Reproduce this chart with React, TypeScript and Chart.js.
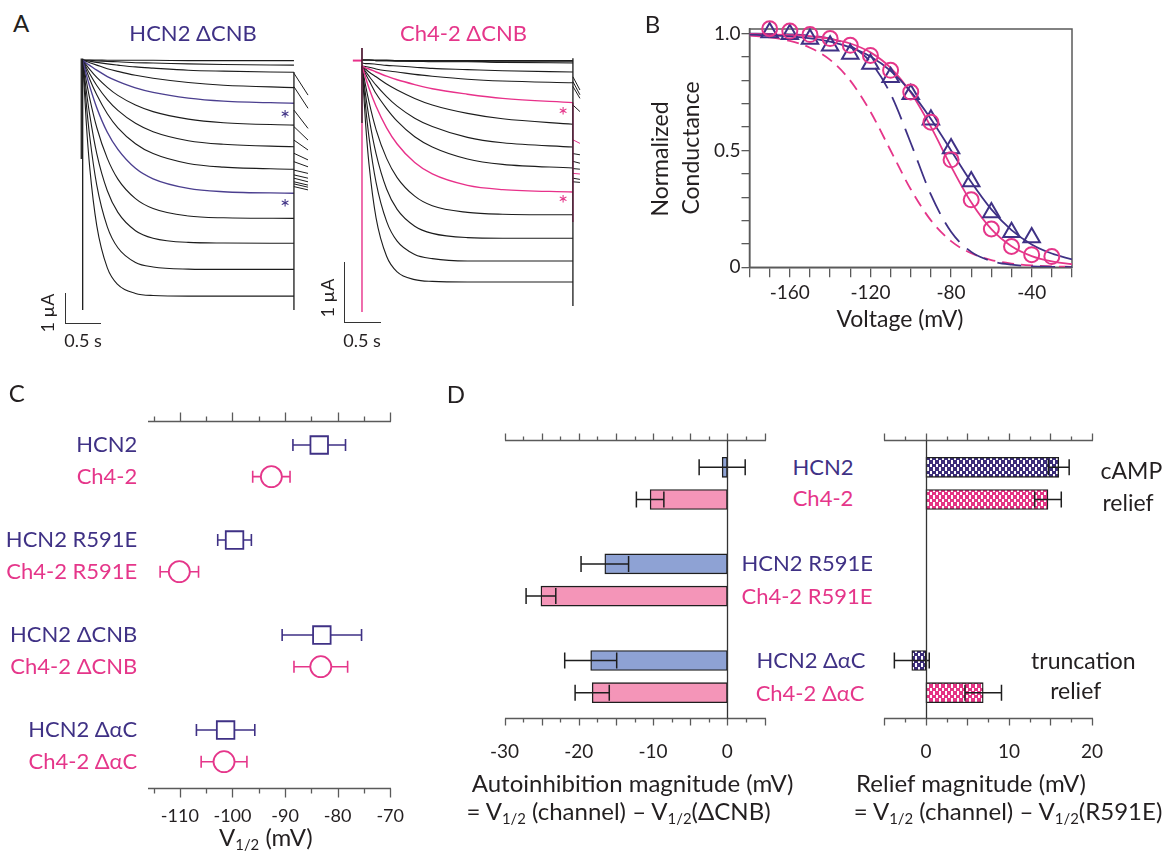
import React, { useEffect, useRef } from 'react';
import { Chart, registerables } from 'chart.js';

Chart.register(...registerables);

const FONT = 'Lato, "Open Sans", "DejaVu Sans", sans-serif';
const INK = '#231f20';
const NAVY = '#3f3185';
const PINK = '#e5368a';
const AXIS = '#5a5a5a';
const TRACE = '#1c1c1c';
const BLUE_BAR = '#8ea2d4';
const PINK_BAR = '#f495b8';
const NAVY_DOT = '#3b2d79';
const PINK_DOT = '#e43584';

// ---------------- Panel A : current traces (µA vs s) ----------------
const traceTimes = [0, 0.05, 0.1, 0.2, 0.35, 0.5, 0.75, 1.0, 1.5, 2.0, 3.0];
const hcnTraces = [
  [0, 0, 0, 0, -0.01, -0.01, -0.01, -0.01, -0.02, -0.02, -0.02],
  [0, -0.01, -0.01, -0.03, -0.05, -0.06, -0.09, -0.1, -0.13, -0.15, -0.17],
  [0, -0.02, -0.04, -0.08, -0.13, -0.17, -0.23, -0.27, -0.34, -0.37, -0.41],
  [0, -0.05, -0.09, -0.17, -0.29, -0.38, -0.51, -0.61, -0.75, -0.84, -0.92],
  [0, -0.1, -0.18, -0.34, -0.55, -0.71, -0.93, -1.08, -1.27, -1.37, -1.44],
  [0, -0.16, -0.31, -0.58, -0.91, -1.18, -1.5, -1.72, -1.97, -2.09, -2.17],
  [0, -0.24, -0.46, -0.85, -1.32, -1.68, -2.11, -2.39, -2.69, -2.81, -2.89],
  [0, -0.33, -0.64, -1.16, -1.79, -2.26, -2.79, -3.12, -3.45, -3.57, -3.64],
  [0, -0.47, -0.88, -1.59, -2.41, -2.98, -3.61, -3.96, -4.28, -4.39, -4.44],
  [0, -0.68, -1.28, -2.25, -3.28, -3.97, -4.62, -4.95, -5.2, -5.26, -5.28],
  [0, -1.0, -1.83, -3.12, -4.36, -5.08, -5.69, -5.94, -6.08, -6.1, -6.11],
  [0, -1.42, -2.55, -4.17, -5.56, -6.26, -6.75, -6.9, -6.97, -6.98, -6.98],
  [0, -2.05, -3.58, -5.52, -6.93, -7.49, -7.78, -7.85, -7.87, -7.87, -7.87],
];
const hcnHighlight = [4, 8];
// [time, from, to, highlighted(1) or not(0)]
const hcnSteps = [
  [0, 0.05, -8.33, 0],
  [-0.02, 0.05, -3.3, 0],
  [3.0, -0.4, -8.33, 0],
];
const hcnTailTimes = [3.0, 3.2];
const hcnTails = [
  [-0.44, -1.17], [-0.89, -1.61], [-1.67, -2.28], [-2.22, -2.67], [-2.67, -3.0],
  [-3.11, -3.33], [-3.39, -3.56], [-3.67, -3.78], [-3.83, -3.94], [-3.94, -4.06],
  [-4.06, -4.17], [-4.13, -4.24], [-4.22, -4.33],
];
const hcnTailHighlight: number[] = [];

const chTraces = [
  [0, 0, 0, 0, 0, -0.01, -0.01, -0.01, -0.01, -0.01, -0.01],
  [0, 0, 0, -0.01, -0.01, -0.01, -0.02, -0.02, -0.02, -0.03, -0.03],
  [0, 0, 0, -0.01, -0.01, -0.02, -0.02, -0.03, -0.03, -0.04, -0.05],
  [-0.05, -0.06, -0.06, -0.07, -0.09, -0.1, -0.12, -0.14, -0.16, -0.18, -0.2],
  [-0.1, -0.11, -0.12, -0.15, -0.18, -0.2, -0.24, -0.27, -0.32, -0.35, -0.38],
  [-0.1, -0.13, -0.15, -0.2, -0.27, -0.33, -0.41, -0.48, -0.57, -0.64, -0.71],
  [-0.1, -0.15, -0.2, -0.28, -0.4, -0.5, -0.64, -0.75, -0.89, -0.98, -1.07],
  [-0.1, -0.19, -0.27, -0.42, -0.61, -0.77, -0.97, -1.11, -1.29, -1.38, -1.45],
  [-0.1, -0.23, -0.34, -0.56, -0.81, -1.02, -1.28, -1.45, -1.65, -1.74, -1.8],
  [-0.1, -0.29, -0.47, -0.77, -1.13, -1.4, -1.71, -1.9, -2.09, -2.16, -2.2],
  [-0.1, -0.42, -0.7, -1.16, -1.64, -1.96, -2.27, -2.43, -2.54, -2.57, -2.58],
  [-0.1, -0.57, -0.96, -1.56, -2.15, -2.49, -2.77, -2.89, -2.96, -2.97, -2.97],
  [-0.1, -0.76, -1.29, -2.04, -2.69, -3.02, -3.24, -3.31, -3.35, -3.35, -3.35],
  [-0.1, -1.04, -1.74, -2.63, -3.27, -3.53, -3.66, -3.69, -3.7, -3.7, -3.7],
];
const chHighlight = [5, 9];
const chSteps = [
  [0, 0.2, -1.05, 0],
  [0, 0.2, -4.2, 1],
  [3.0, 0.03, -4.1, 0],
  [3.0, -0.71, -2.7, 1],
];
const chHoldTimes = [-0.13, 0];
const chHoldLevel = [-0.01, -0.01];
const chTailTimes = [3.0, 3.1];
const chTails = [
  [-0.28, -0.5], [-0.36, -0.58], [-0.44, -0.64], [-0.75, -0.86], [-1.33, -1.39],
  [-1.56, -1.58], [-1.69, -1.72], [-1.81, -1.82], [-1.89, -1.9], [-1.97, -1.99], [-2.03, -2.04],
];
const chTailHighlight = [4, 8];

// ---------------- Panel B : normalized conductance ----------------
const bTriVolts = [-170, -160, -150, -140, -130, -120, -110, -100, -90, -80, -70, -60, -50, -40];
const bTriG = [1.005, 0.998, 0.977, 0.948, 0.913, 0.87, 0.813, 0.741, 0.632, 0.509, 0.367, 0.235, 0.15, 0.128];
const bCircVolts = [-170, -160, -150, -140, -130, -120, -110, -100, -90, -80, -70, -60, -50, -40, -30];
const bCircG = [1.021, 1.011, 0.996, 0.979, 0.95, 0.907, 0.843, 0.75, 0.621, 0.46, 0.289, 0.164, 0.089, 0.054, 0.046];
const fitVolts = [-180, -170, -160, -150, -140, -130, -120, -110, -100, -90, -80, -70, -60, -50, -40, -30, -20];
const fitHcn = [0.996, 0.993, 0.988, 0.98, 0.966, 0.941, 0.902, 0.841, 0.752, 0.635, 0.5, 0.365, 0.248, 0.159, 0.098, 0.059, 0.034];
const fitCh = [0.999, 0.997, 0.994, 0.989, 0.978, 0.958, 0.92, 0.854, 0.748, 0.601, 0.432, 0.278, 0.163, 0.09, 0.048, 0.025, 0.013];
const fitHcnDash = [1.0, 0.999, 0.997, 0.992, 0.979, 0.948, 0.879, 0.742, 0.532, 0.311, 0.152, 0.066, 0.027, 0.011, 0.004, 0.002, 0.001];
const fitChDash = [0.992, 0.984, 0.969, 0.94, 0.888, 0.799, 0.666, 0.5, 0.334, 0.201, 0.112, 0.06, 0.031, 0.016, 0.008, 0.004, 0.002];
const bTicksX = [-180, -170, -160, -150, -140, -130, -120, -110, -100, -90, -80, -70, -60, -50, -40, -30, -20];
const bLabelsX = [-160, -120, -80, -40];
const bTicksY = [0, 0.1, 0.2, 0.3, 0.4, 0.5, 0.6, 0.7, 0.8, 0.9, 1];
const bLabelsY = [0, 0.5, 1];

// ---------------- Panel C : V1/2 ----------------
const cRows = ['HCN2', 'Ch4-2', ' ', 'HCN2 R591E', 'Ch4-2 R591E', '  ', 'HCN2 ΔCNB', 'Ch4-2 ΔCNB', '   ', 'HCN2 ΔαC', 'Ch4-2 ΔαC'];
const cHcnRows = ['HCN2', 'HCN2 R591E', 'HCN2 ΔCNB', 'HCN2 ΔαC'];
const cHcnV = [-83.5, -99.6, -83.0, -101.3];
const cHcnErr = [5.0, 3.2, 7.55, 5.55];
const cChRows = ['Ch4-2', 'Ch4-2 R591E', 'Ch4-2 ΔCNB', 'Ch4-2 ΔαC'];
const cChV = [-92.6, -110.1, -83.2, -101.6];
const cChErr = [3.55, 3.65, 5.1, 4.35];
const cTickLabels = [-110, -100, -90, -80, -70];
const cMajor = [-110, -100, -90, -80, -70];
const cMinor = [-115, -105, -95, -85, -75];

// ---------------- Panel D : autoinhibition / relief ----------------
const dRows = ['HCN2', 'Ch4-2', ' ', 'HCN2 R591E', 'Ch4-2 R591E', '  ', 'HCN2 ΔαC', 'Ch4-2 ΔαC'];
const dHcnRows = ['HCN2', 'HCN2 R591E', 'HCN2 ΔαC'];
const dChRows = ['Ch4-2', 'Ch4-2 R591E', 'Ch4-2 ΔαC'];
const autoHcn = [-0.7, -16.5, -18.4];
const autoHcnErr = [3.1, 3.2, 3.5];
const autoCh = [-10.4, -25.1, -18.2];
const autoChErr = [1.85, 2.0, 2.3];
const reliefHcnRows = ['HCN2', 'HCN2 ΔαC'];
const reliefHcn = [16.0, -1.7];
const reliefHcnErr = [1.25, 2.1];
const reliefChRows = ['Ch4-2', 'Ch4-2 ΔαC'];
const reliefCh = [14.7, 6.9];
const reliefChErr = [1.6, 2.2];
const dAutoTicks = [-30, -20, -10, 0];
const dAutoMajor = [-30, -25, -20, -15, -10, -5, 0, 5];
const dAutoMinor = [-27.5, -22.5, -17.5, -12.5, -7.5, -2.5, 2.5];
const dReliefTicks = [0, 10, 20];
const dReliefMajor = [-5, 0, 5, 10, 15, 20];
const dReliefMinor = [-2.5, 2.5, 7.5, 12.5, 17.5];

// ---------------- helpers ----------------
const baseOpts = {
  animation: false as const,
  responsive: false,
  events: [] as any[],
  plugins: { legend: { display: false }, tooltip: { enabled: false } },
};

function setTicks(values: number[]) {
  return (scale: any) => {
    scale.ticks = values.map((v) => ({ value: v }));
  };
}

function errorBars(phase: 'before' | 'after', cap: number, width: number) {
  const draw = (chart: any) => {
    const { ctx } = chart;
    const xs = chart.scales.x;
    const ys = chart.scales.y;
    ctx.save();
    ctx.lineWidth = width;
    chart.data.datasets.forEach((ds: any) => {
      if (!ds.errorBars) return;
      ctx.strokeStyle = ds.errorColor;
      ctx.beginPath();
      ds.errorBars.forEach((b: any) => {
        const y = ys.getPixelForValue(b.row);
        const x0 = xs.getPixelForValue(b.v - b.e);
        const x1 = xs.getPixelForValue(b.v + b.e);
        ctx.moveTo(x0, y);
        ctx.lineTo(x1, y);
        ctx.moveTo(x0, y - cap);
        ctx.lineTo(x0, y + cap);
        ctx.moveTo(x1, y - cap);
        ctx.lineTo(x1, y + cap);
      });
      ctx.stroke();
    });
    ctx.restore();
  };
  return phase === 'before'
    ? { id: 'errorBars', beforeDatasetsDraw: draw }
    : { id: 'errorBars', afterDatasetsDraw: draw };
}

function tickAxes(spec: {
  min: number; max: number; major: number[]; minor: number[];
  majorLen: number; minorLen: number; topGap: number; bottomGap: number; zero?: boolean;
}) {
  return {
    id: 'tickAxes',
    afterDatasetsDraw(chart: any) {
      const { ctx, chartArea: a } = chart;
      const xs = chart.scales.x;
      const yTop = Math.round(a.top - spec.topGap) + 0.5;
      const yBot = Math.round(a.bottom + spec.bottomGap) + 0.5;
      const px = (v: number) => Math.round(xs.getPixelForValue(v)) + 0.5;
      ctx.save();
      ctx.strokeStyle = AXIS;
      ctx.lineWidth = 1.3;
      ctx.beginPath();
      ([[yTop, -1], [yBot, 1]] as number[][]).forEach(([y, dir]) => {
        ctx.moveTo(px(spec.min) - 0.5, y);
        ctx.lineTo(px(spec.max) + 0.5, y);
        spec.major.forEach((v) => { ctx.moveTo(px(v), y); ctx.lineTo(px(v), y + dir * spec.majorLen); });
        spec.minor.forEach((v) => { ctx.moveTo(px(v), y); ctx.lineTo(px(v), y + dir * spec.minorLen); });
      });
      ctx.stroke();
      if (spec.zero) {
        ctx.strokeStyle = '#333';
        ctx.beginPath();
        ctx.moveTo(px(0), yTop);
        ctx.lineTo(px(0), yBot);
        ctx.stroke();
      }
      ctx.restore();
    },
  };
}

const framePlugin = {
  id: 'frame',
  beforeDatasetsDraw(chart: any) {
    const { ctx, chartArea: a } = chart;
    ctx.save();
    ctx.strokeStyle = AXIS;
    ctx.lineWidth = 1.5;
    ctx.strokeRect(a.left, a.top, a.right - a.left, a.bottom - a.top);
    ctx.restore();
  },
};

function dotPattern(base: string) {
  const c = document.createElement('canvas');
  c.width = 6;
  c.height = 7;
  const g = c.getContext('2d')!;
  g.fillStyle = base;
  g.fillRect(0, 0, 6, 7);
  g.fillStyle = '#ffffff';
  g.fillRect(0, 1, 2, 3);
  g.fillRect(3, 4, 2, 3);
  g.fillRect(3, 0, 2, 1);
  return g.createPattern(c, 'repeat');
}

function traceChart(canvas: HTMLCanvasElement, o: any) {
  const ds: any[] = [];
  const line = (pts: any[], color: string, w: number, order: number, smooth: boolean) => ({
    data: pts,
    borderColor: color,
    borderWidth: w,
    pointRadius: 0,
    fill: false,
    tension: 0,
    cubicInterpolationMode: smooth ? 'monotone' : 'default',
    order,
  });
  o.traces.forEach((tr: number[], i: number) => {
    const hi = o.highlight.includes(i);
    ds.push(line(traceTimes.map((t, j) => ({ x: t, y: tr[j] })), hi ? o.hiColor : TRACE, hi ? 1.4 : 1.1, hi ? 1 : 3, true));
  });
  o.tails.forEach((tl: number[], i: number) => {
    const hi = o.tailHighlight.includes(i);
    ds.push(line(o.tailTimes.map((t: number, j: number) => ({ x: t, y: tl[j] })), hi ? o.hiColor : TRACE, 1, hi ? 1 : 3, false));
  });
  o.steps.forEach((s: number[]) => {
    const hi = s[3] === 1;
    ds.push(line([{ x: s[0], y: s[1] }, { x: s[0], y: s[2] }], hi ? o.hiColor : TRACE, hi ? 1.4 : 1.3, hi ? 2 : 0, false));
  });
  if (o.hold) {
    ds.push(line(o.hold.t.map((t: number, j: number) => ({ x: t, y: o.hold.v[j] })), o.hiColor, 2, 0, false));
  }
  return new Chart(canvas, {
    type: 'line',
    data: { datasets: ds },
    options: {
      ...baseOpts,
      layout: { padding: 0 },
      scales: {
        x: { type: 'linear', min: o.xMin, max: o.xMax, display: false },
        y: { type: 'linear', min: o.yMin, max: o.yMax, display: false },
      },
    } as any,
  });
}

// ---------------- text helper ----------------
function Txt(p: { x: number; y: number; size?: number; color?: string; rot?: number; children: any }) {
  const size = p.size || 22;
  return (
    <div
      style={{
        position: 'absolute',
        left: p.x,
        top: p.y,
        transform: `translate(-50%, -50%)${p.rot ? ` rotate(${p.rot}deg)` : ''}`,
        fontFamily: FONT,
        fontSize: size,
        lineHeight: `${size}px`,
        color: p.color || INK,
        whiteSpace: 'nowrap',
      }}
    >
      {p.children}
    </div>
  );
}

const Sub = (p: { children: any }) => (
  <span style={{ fontSize: '0.62em', position: 'relative', top: '0.3em' }}>{p.children}</span>
);

function Cv(p: { r: any; x: number; y: number; w: number; h: number }) {
  return (
    <canvas
      ref={p.r}
      width={p.w}
      height={p.h}
      style={{ position: 'absolute', left: p.x, top: p.y, width: p.w, height: p.h }}
    />
  );
}

export default function App() {
  const aL = useRef<HTMLCanvasElement>(null);
  const aR = useRef<HTMLCanvasElement>(null);
  const bRef = useRef<HTMLCanvasElement>(null);
  const cRef = useRef<HTMLCanvasElement>(null);
  const dL = useRef<HTMLCanvasElement>(null);
  const dR = useRef<HTMLCanvasElement>(null);

  useEffect(() => {
    const charts: Chart[] = [];

    charts.push(
      traceChart(aL.current!, {
        traces: hcnTraces, highlight: hcnHighlight, hiColor: '#4b3f8f',
        steps: hcnSteps, tails: hcnTails, tailTimes: hcnTailTimes, tailHighlight: hcnTailHighlight,
        xMin: -0.322, xMax: 3.37, yMin: -9.0, yMax: 0.667,
      })
    );
    charts.push(
      traceChart(aR.current!, {
        traces: chTraces, highlight: chHighlight, hiColor: '#e8318a',
        steps: chSteps, tails: chTails, tailTimes: chTailTimes, tailHighlight: chTailHighlight,
        hold: { t: chHoldTimes, v: chHoldLevel },
        xMin: -0.455, xMax: 3.243, yMin: -4.5, yMax: 0.333,
      })
    );

    // Panel B
    const pts = (xs: number[], ys: number[]) => xs.map((x, i) => ({ x, y: ys[i] }));
    charts.push(
      new Chart(bRef.current!, {
        type: 'line',
        data: {
          datasets: [
            { data: pts(bCircVolts, bCircG), showLine: false, pointStyle: 'circle', pointRadius: 7.5, borderColor: PINK, borderWidth: 2, backgroundColor: 'rgba(0,0,0,0)', clip: false },
            { data: pts(bTriVolts, bTriG), showLine: false, pointStyle: 'triangle', pointRadius: 9.5, borderColor: NAVY, borderWidth: 2, backgroundColor: 'rgba(0,0,0,0)', clip: false },
            { data: pts(fitVolts, fitHcn), borderColor: NAVY, borderWidth: 1.8, pointRadius: 0, cubicInterpolationMode: 'monotone', fill: false },
            { data: pts(fitVolts, fitCh), borderColor: PINK, borderWidth: 1.8, pointRadius: 0, cubicInterpolationMode: 'monotone', fill: false },
            { data: pts(fitVolts, fitHcnDash), borderColor: NAVY, borderWidth: 1.8, borderDash: [24, 10], pointRadius: 0, cubicInterpolationMode: 'monotone', fill: false },
            { data: pts(fitVolts, fitChDash), borderColor: PINK, borderWidth: 1.8, borderDash: [12, 7], pointRadius: 0, cubicInterpolationMode: 'monotone', fill: false },
          ],
        },
        options: {
          ...baseOpts,
          layout: { padding: { top: 29, right: 92, left: 0, bottom: 0 } },
          scales: {
            x: {
              type: 'linear', min: -180, max: -20,
              afterBuildTicks: setTicks(bTicksX),
              afterFit: (s: any) => { s.height = 72.7; },
              grid: { drawOnChartArea: false, drawTicks: true, tickLength: 10, color: AXIS, lineWidth: 1.3 },
              border: { display: true, color: AXIS, width: 1.5 },
              ticks: {
                autoSkip: false, maxRotation: 0, padding: 4, color: INK,
                font: { family: FONT, size: 19 },
                callback: (v: any) => (bLabelsX.includes(v) ? String(v) : ''),
              },
            },
            y: {
              type: 'linear', min: 0, max: 1.02,
              afterBuildTicks: setTicks(bTicksY),
              afterFit: (s: any) => { s.width = 149.5; },
              grid: { drawOnChartArea: false, drawTicks: true, tickLength: 8, color: AXIS, lineWidth: 1.3 },
              border: { display: true, color: AXIS, width: 1.5 },
              ticks: {
                autoSkip: false, padding: 1, color: INK,
                font: { family: FONT, size: 19 },
                callback: (v: any) => (bLabelsY.includes(v) ? (v === 0 ? '0' : Number(v).toFixed(1)) : ''),
              },
            },
          },
        } as any,
        plugins: [framePlugin],
      })
    );

    // Panel C
    charts.push(
      new Chart(cRef.current!, {
        type: 'line',
        data: {
          datasets: [
            {
              data: cHcnRows.map((r, i) => ({ x: cHcnV[i], y: r })),
              showLine: false, pointStyle: 'rect', pointRadius: 12.4, borderColor: NAVY, borderWidth: 1.8,
              backgroundColor: '#ffffff', clip: false,
              errorBars: cHcnRows.map((r, i) => ({ row: r, v: cHcnV[i], e: cHcnErr[i] })), errorColor: NAVY,
            },
            {
              data: cChRows.map((r, i) => ({ x: cChV[i], y: r })),
              showLine: false, pointStyle: 'circle', pointRadius: 10.5, borderColor: PINK, borderWidth: 1.8,
              backgroundColor: '#ffffff', clip: false,
              errorBars: cChRows.map((r, i) => ({ row: r, v: cChV[i], e: cChErr[i] })), errorColor: PINK,
            },
          ],
        },
        options: {
          ...baseOpts,
          layout: { padding: { top: 65, right: 40, left: 0, bottom: 0 } },
          scales: {
            x: {
              type: 'linear', min: -116, max: -70,
              afterBuildTicks: setTicks(cTickLabels),
              afterFit: (s: any) => { s.height = 93.3; },
              grid: { display: false }, border: { display: false },
              ticks: { autoSkip: false, maxRotation: 0, padding: 36, color: INK, font: { family: FONT, size: 18 } },
            },
            y: {
              type: 'category', labels: cRows, offset: false,
              afterFit: (s: any) => { s.width = 148.3; },
              grid: { display: false }, border: { display: false },
              ticks: {
                autoSkip: false, padding: 3,
                font: { family: FONT, size: 22 },
                color: (c: any) => (String(cRows[c.index] || '').startsWith('HCN2') ? NAVY : PINK),
              },
            },
          },
        } as any,
        plugins: [
          errorBars('before', 6, 1.6),
          tickAxes({ min: -116, max: -70, major: cMajor, minor: cMinor, majorLen: 9, minorLen: 5, topGap: 24, bottomGap: 26 }),
        ],
      })
    );

    // Panel D left
    const dScalesX = (min: number, max: number, ticks: number[]) => ({
      type: 'linear', min, max,
      afterBuildTicks: setTicks(ticks),
      afterFit: (s: any) => { s.height = 107.3; },
      grid: { display: false }, border: { display: false },
      ticks: { autoSkip: false, maxRotation: 0, padding: 40, color: INK, font: { family: FONT, size: 19 } },
    });
    const barDs = (rows: string[], vals: number[], errs: number[], fill: any) => ({
      data: rows.map((r, i) => ({ x: vals[i], y: r })),
      backgroundColor: fill, borderColor: '#1e1e1e', borderWidth: 1.4, borderSkipped: false,
      barThickness: 20, grouped: false, clip: false,
      errorBars: rows.map((r, i) => ({ row: r, v: vals[i], e: errs[i] })), errorColor: '#1e1e1e',
    });
    charts.push(
      new Chart(dL.current!, {
        type: 'bar',
        data: {
          labels: dRows,
          datasets: [barDs(dHcnRows, autoHcn, autoHcnErr, BLUE_BAR), barDs(dChRows, autoCh, autoChErr, PINK_BAR)],
        },
        options: {
          ...baseOpts,
          indexAxis: 'y',
          layout: { padding: { top: 67.3, right: 15.5, left: 24.8, bottom: 0 } },
          scales: {
            x: dScalesX(-30, 5, dAutoTicks),
            y: { type: 'category', offset: false, display: false },
          },
        } as any,
        plugins: [
          errorBars('after', 8, 1.5),
          tickAxes({ min: -30, max: 5, major: dAutoMajor, minor: dAutoMinor, majorLen: 7, minorLen: 4, topGap: 27.3, bottomGap: 25.6, zero: true }),
        ],
      })
    );

    // Panel D right
    charts.push(
      new Chart(dR.current!, {
        type: 'bar',
        data: {
          labels: dRows,
          datasets: [
            barDs(reliefHcnRows, reliefHcn, reliefHcnErr, dotPattern(NAVY_DOT)),
            barDs(reliefChRows, reliefCh, reliefChErr, dotPattern(PINK_DOT)),
          ],
        },
        options: {
          ...baseOpts,
          indexAxis: 'y',
          layout: { padding: { top: 67.3, right: 72, left: 14.4, bottom: 0 } },
          scales: {
            x: dScalesX(-5, 20, dReliefTicks),
            y: { type: 'category', offset: false, display: false },
          },
        } as any,
        plugins: [
          errorBars('after', 8, 1.5),
          tickAxes({ min: -5, max: 20, major: dReliefMajor, minor: dReliefMinor, majorLen: 7, minorLen: 4, topGap: 27.3, bottomGap: 25.6, zero: true }),
        ],
      })
    );

    return () => charts.forEach((c) => c.destroy());
  }, []);

  const bar = '1.5px solid #333';

  return (
    <div style={{ position: 'absolute', left: 0, top: 0, width: 1164, height: 855, background: '#fff', overflow: 'hidden', fontFamily: FONT }}>
      <Cv r={aL} x={60} y={40} w={260} h={290} />
      <Cv r={aR} x={330} y={40} w={260} h={290} />
      <Cv r={bRef} x={600} y={0} w={564} h={340} />
      <Cv r={cRef} x={0} y={380} w={440} h={475} />
      <Cv r={dL} x={450} y={400} w={330} h={400} />
      <Cv r={dR} x={870} y={400} w={294} h={400} />

      {/* Panel A */}
      <Txt x={21} y={23} size={24}>A</Txt>
      <Txt x={193} y={33} size={22} color={NAVY}>HCN2 ΔCNB</Txt>
      <Txt x={463.5} y={33} size={22} color={PINK}>Ch4-2 ΔCNB</Txt>
      <Txt x={285} y={118} size={24} color={NAVY}>*</Txt>
      <Txt x={285} y={207} size={24} color={NAVY}>*</Txt>
      <Txt x={563} y={115} size={24} color={PINK}>*</Txt>
      <Txt x={563} y={203} size={24} color={PINK}>*</Txt>
      <div style={{ position: 'absolute', left: 65, top: 293, width: 35, height: 30, borderLeft: bar, borderBottom: bar }} />
      <div style={{ position: 'absolute', left: 344, top: 262, width: 36, height: 60, borderLeft: bar, borderBottom: bar }} />
      <Txt x={47} y={313} size={18} rot={-90}>1 µA</Txt>
      <Txt x={327} y={298} size={18} rot={-90}>1 µA</Txt>
      <Txt x={83} y={340} size={18}>0.5 s</Txt>
      <Txt x={362} y={340} size={18}>0.5 s</Txt>

      {/* Panel B */}
      <Txt x={652.5} y={23.5} size={24}>B</Txt>
      <Txt x={658.8} y={159} size={23} rot={-90}>Normalized</Txt>
      <Txt x={689.5} y={148} size={23} rot={-90}>Conductance</Txt>
      <Txt x={900} y={318} size={23}>Voltage (mV)</Txt>

      {/* Panel C */}
      <Txt x={16.7} y={392.5} size={24}>C</Txt>
      <Txt x={265.8} y={838} size={24}>V<Sub>1/2</Sub> (mV)</Txt>

      {/* Panel D */}
      <Txt x={456} y={394} size={24}>D</Txt>
      <Txt x={823} y={467.3} color={NAVY}>HCN2</Txt>
      <Txt x={823} y={498.3} color={PINK}>Ch4-2</Txt>
      <Txt x={807.3} y={562.7} color={NAVY}>HCN2 R591E</Txt>
      <Txt x={807} y={595.7} color={PINK}>Ch4-2 R591E</Txt>
      <Txt x={811} y={660} color={NAVY}>HCN2 ΔαC</Txt>
      <Txt x={810} y={692.7} color={PINK}>Ch4-2 ΔαC</Txt>
      <Txt x={1131.4} y={470} size={23}>cAMP</Txt>
      <Txt x={1128} y={501.7} size={23}>relief</Txt>
      <Txt x={1083.4} y={660} size={23}>truncation</Txt>
      <Txt x={1075.7} y={690} size={23}>relief</Txt>
      <Txt x={632.6} y={783.3} size={24}>Autoinhibition magnitude (mV)</Txt>
      <Txt x={618.5} y={812} size={24}>= V<Sub>1/2</Sub> (channel) – V<Sub>1/2</Sub>(ΔCNB)</Txt>
      <Txt x={971} y={783.3} size={24}>Relief magnitude (mV)</Txt>
      <Txt x={1008} y={812} size={24}>= V<Sub>1/2</Sub> (channel) – V<Sub>1/2</Sub>(R591E)</Txt>
    </div>
  );
}
